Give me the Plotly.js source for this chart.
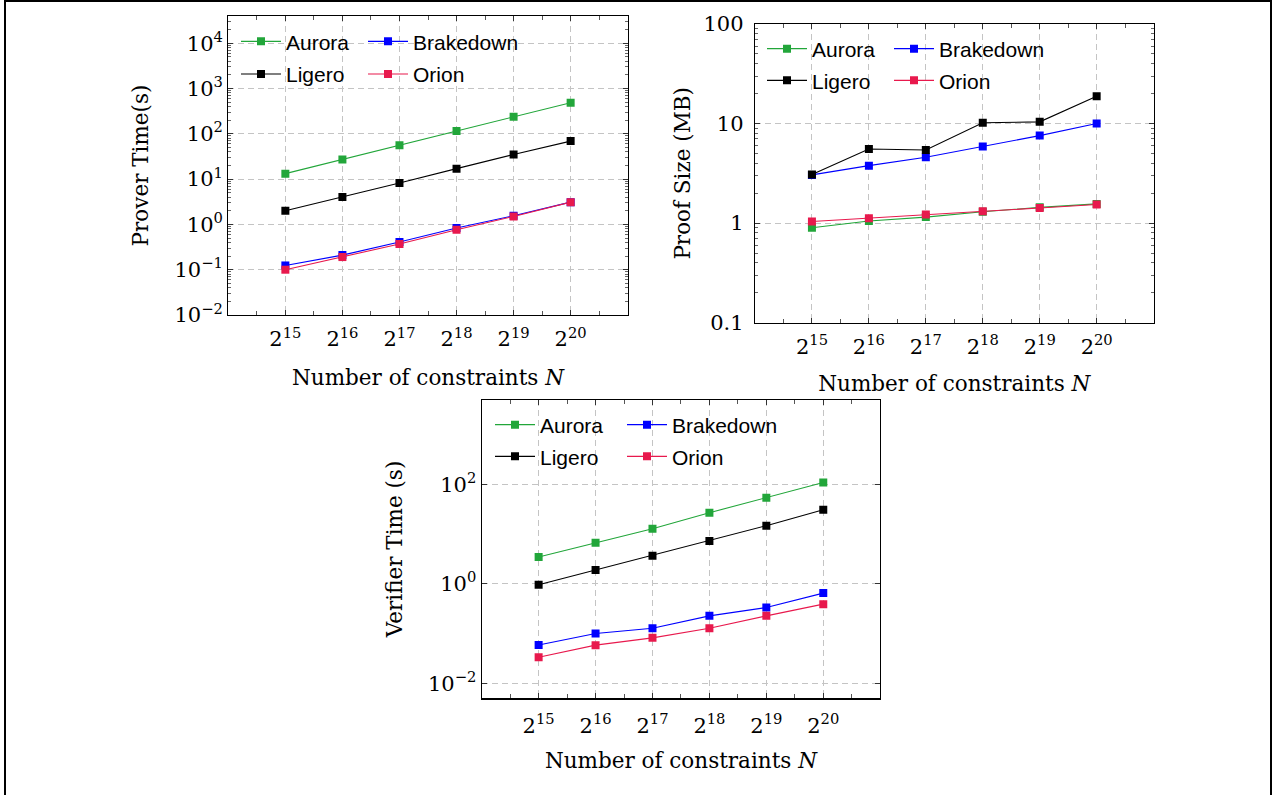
<!DOCTYPE html>
<html><head><meta charset="utf-8">
<script src="https://cdn.plot.ly/plotly-3.0.1.min.js"></script>
<style>html,body{margin:0;padding:0;background:#fff}</style>
</head><body><div id="chart" style="width:1274px;height:795px"></div>
<script>
// ---- data ----
const exponents = [15, 16, 17, 18, 19, 20];            // N = 2^e
const xTickLabels = ['2<sup>15</sup>','2<sup>16</sup>','2<sup>17</sup>','2<sup>18</sup>','2<sup>19</sup>','2<sup>20</sup>'];
const seriesNames = ['Aurora', 'Brakedown', 'Ligero', 'Orion'];

// Prover time (s)
const proverAurora    = [13.2, 27, 56, 115, 238, 486];
const proverBrakedown = [0.124, 0.21, 0.41, 0.83, 1.55, 3.1];
const proverLigero    = [2.0, 4.0, 8.2, 17, 35, 69];
const proverOrion     = [0.10, 0.19, 0.37, 0.76, 1.5, 3.1];

// Proof size (MB)
const sizeAurora    = [0.90, 1.05, 1.15, 1.30, 1.44, 1.56];
const sizeBrakedown = [3.05, 3.78, 4.58, 5.87, 7.57, 10.0];
const sizeLigero    = [3.08, 5.56, 5.43, 10.2, 10.4, 18.8];
const sizeOrion     = [1.04, 1.12, 1.22, 1.32, 1.42, 1.54];

// Verifier time (s)
const verAurora    = [3.44, 6.7, 12.8, 26.8, 53.8, 108];
const verBrakedown = [0.059, 0.10, 0.128, 0.227, 0.334, 0.65];
const verLigero    = [0.955, 1.89, 3.66, 7.2, 14.7, 30.8];
const verOrion     = [0.0335, 0.0585, 0.082, 0.128, 0.227, 0.39];

// y tick labels
const proverTickVals = [1e-2, 1e-1, 1, 10, 100, 1000, 10000];
const proverTickText = ['10<sup>−2</sup>','10<sup>−1</sup>','10<sup>0</sup>','10<sup>1</sup>','10<sup>2</sup>','10<sup>3</sup>','10<sup>4</sup>'];
const sizeTickVals = [0.1, 1, 10, 100];
const sizeTickText = ['0.1', '1', '10', '100'];
const verTickVals = [1e-2, 1, 100];
const verTickText = ['10<sup>−2</sup>','10<sup>0</sup>','10<sup>2</sup>'];

// ---- styles ----
const colors = {Aurora: '#22a63a', Brakedown: '#0000ff', Ligero: '#000000', Orion: '#e8194d'};
const W = 1274, H = 795;

function minorLog(lo, hi) {
  const v = [];
  for (let d = lo; d < hi; d++) for (let k = 2; k <= 9; k++) v.push(k * Math.pow(10, d));
  return v;
}
const xMinor = [];
for (let e = 14; e < 21; e++) xMinor.push(e + 0.5);

const serif = 'DejaVu Serif, serif';
const sans = 'Liberation Sans, Arial, sans-serif';

function xAxis(domain, anchor, lstand, tstand) {
  return {
    domain: domain, anchor: anchor, range: [14, 21],
    tickmode: 'array', tickvals: exponents, ticktext: xTickLabels,
    ticks: 'inside', ticklen: 5, tickcolor: '#333', mirror: 'ticks',
    showline: true, linecolor: '#000', linewidth: 1.2,
    showgrid: true, gridcolor: '#c4c4c4', gridwidth: 1, griddash: '6px,4px',
    zeroline: false,
    minor: {tickmode: 'array', tickvals: xMinor, ticks: 'inside', ticklen: 4, tickcolor: '#555', showgrid: false},
    tickfont: {family: serif, size: 21, color: '#000'},
    ticklabelstandoff: lstand,
    title: {text: 'Number of constraints <i>N</i>', font: {family: serif, size: 21.5, color: '#000'}, standoff: tstand}
  };
}
function yAxis(domain, anchor, range, tv, tt, minorVals, title, lstand, tstand) {
  const ax = {
    domain: domain, anchor: anchor, type: 'log', range: range,
    tickmode: 'array', tickvals: tv, ticktext: tt,
    ticks: 'inside', ticklen: 5, tickcolor: '#333', mirror: 'ticks',
    showline: true, linecolor: '#000', linewidth: 1.2,
    showgrid: true, gridcolor: '#c4c4c4', gridwidth: 1, griddash: '6px,4px',
    zeroline: false,
    tickfont: {family: serif, size: 21, color: '#000'},
    ticklabelstandoff: lstand,
    title: {text: title, font: {family: serif, size: 21.5, color: '#000'}, standoff: tstand}
  };
  if (minorVals) ax.minor = {tickmode: 'array', tickvals: minorVals, ticks: 'inside', ticklen: 3, tickcolor: '#666', showgrid: false};
  return ax;
}

const panels = [
  {xa: 'x', ya: 'y', data: {Aurora: proverAurora, Brakedown: proverBrakedown, Ligero: proverLigero, Orion: proverOrion}, legends: ['legend', 'legend2']},
  {xa: 'x2', ya: 'y2', data: {Aurora: sizeAurora, Brakedown: sizeBrakedown, Ligero: sizeLigero, Orion: sizeOrion}, legends: ['legend3', 'legend4']},
  {xa: 'x3', ya: 'y3', data: {Aurora: verAurora, Brakedown: verBrakedown, Ligero: verLigero, Orion: verOrion}, legends: ['legend5', 'legend6']}
];

const traces = [];
panels.forEach((p, pi) => {
  seriesNames.forEach((name) => {
    const firstCol = (name === 'Aurora' || name === 'Ligero');
    const firstRow = (name === 'Aurora' || name === 'Brakedown');
    traces.push({
      type: 'scatter', mode: 'lines+markers', name: name,
      x: exponents, y: p.data[name], xaxis: p.xa, yaxis: p.ya,
      line: {color: colors[name], width: 1.1},
      marker: {symbol: 'square', size: 8, color: colors[name]},
      legend: firstRow ? p.legends[0] : p.legends[1],
      legendwidth: firstCol ? (pi === 2 ? 77 : 72) : 130,
      showlegend: true
    });
  });
});

function legendAt(px, py) {
  return {
    x: px / W, y: 1 - py / H, xanchor: 'left', yanchor: 'middle',
    orientation: 'h',
    bgcolor: 'rgba(255,255,255,0)', borderwidth: 0,
    font: {family: sans, size: 21, color: '#000'},
    itemwidth: 40, tracegroupgap: 0, itemclick: false
  };
}

const layout = {
  width: W, height: H,
  margin: {l: 0, r: 0, t: 0, b: 0},
  paper_bgcolor: '#fff', plot_bgcolor: '#fff',
  showlegend: true,
  xaxis: xAxis([228.3 / W, 627.7 / W], 'y', 5, 19),
  yaxis: yAxis([1 - 315 / H, 1 - 16 / H], 'x', [-2, 4.6], proverTickVals, proverTickText, minorLog(-2, 5), 'Prover Time(s)', 0, 20),
  xaxis2: xAxis([755 / W, 1153.6 / W], 'y2', 5, 17),
  yaxis2: yAxis([1 - 322.7 / H, 1 - 24 / H], 'x2', [-1, 2], sizeTickVals, sizeTickText, minorLog(-1, 2), 'Proof Size (MB)', 6, 7),
  xaxis3: xAxis([481.7 / W, 880.2 / W], 'y3', 8, 16),
  yaxis3: yAxis([1 - 698.3 / H, 1 - 399.7 / H], 'x3', [-2.301, 3.699], verTickVals, verTickText, null, 'Verifier Time (s)', 0, 19),
  legend: legendAt(236, 41.7),
  legend2: legendAt(236, 74.3),
  legend3: legendAt(762, 49),
  legend4: legendAt(762, 80.7),
  legend5: legendAt(490, 425),
  legend6: legendAt(490, 456.7),
  shapes: [{type: 'rect', xref: 'paper', yref: 'paper', x0: 5 / W, x1: 1271 / W, y0: -0.02, y1: 1 - 1 / H,
            line: {color: '#000', width: 2}, fillcolor: 'rgba(0,0,0,0)', layer: 'above'}]
};

Plotly.newPlot('chart', traces, layout, {staticPlot: true, displayModeBar: false});
</script></body></html>
